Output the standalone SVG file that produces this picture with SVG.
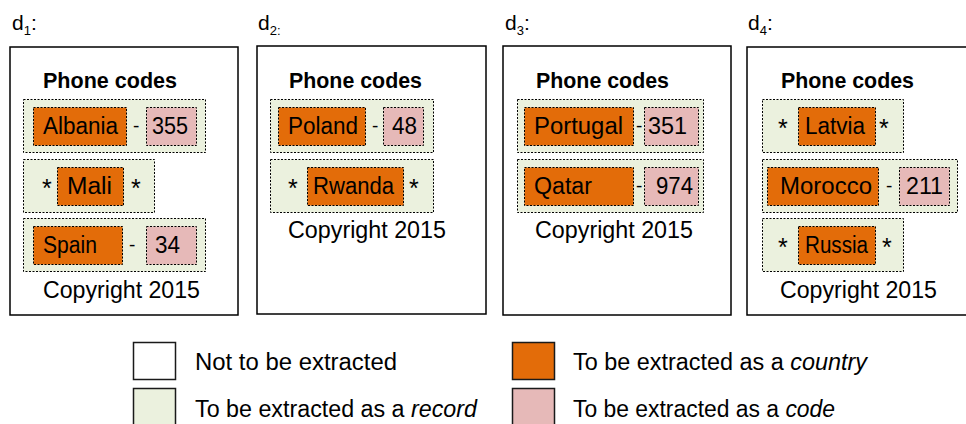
<svg xmlns="http://www.w3.org/2000/svg" width="966" height="424" viewBox="0 0 966 424">
  <style>
    .doc { fill: #ffffff; stroke: #000000; stroke-width: 1.5; }
    .rec { fill: #EBF1DE; stroke: #000000; stroke-width: 1; stroke-dasharray: 2 1.5; }
    .cty { fill: #E36C09; stroke: #000000; stroke-width: 1; stroke-dasharray: 2 1.5; }
    .code { fill: #E6B9B8; stroke: #000000; stroke-width: 1; stroke-dasharray: 2 1.5; }
    .key { stroke: #1a1a1a; stroke-width: 1.5; }
    text { font-family: "Liberation Sans", Arial, sans-serif; font-size: 23px; fill: #000000; }
    .h { font-weight: bold; font-size: 22px; }
    .lbl { font-size: 21px; }
    .sub { font-size: 13px; }
    .ast { font-size: 25px; }
    .dash { font-size: 19px; }
  </style>

  <!-- document d1 -->
  <g id="d1">
    <text class="lbl" x="12" y="30">d<tspan class="sub" dy="5">1</tspan><tspan dy="-5">:</tspan></text>
    <rect class="doc" x="10" y="47" width="228" height="268"/>
    <text class="h" x="43" y="88" textLength="134" lengthAdjust="spacingAndGlyphs">Phone codes</text>
    <g id="d1-albania">
      <rect class="rec" x="23.5" y="99.5" width="182" height="53"/>
      <rect class="cty" x="33.5" y="107.5" width="93" height="38"/>
      <text x="43" y="134" textLength="75" lengthAdjust="spacingAndGlyphs">Albania</text>
      <text class="dash" x="133" y="132">-</text>
      <rect class="code" x="146.5" y="107.5" width="50" height="38"/>
      <text x="152" y="134" textLength="36" lengthAdjust="spacingAndGlyphs">355</text>
    </g>
    <g id="d1-mali">
      <rect class="rec" x="23.5" y="159.5" width="131" height="53"/>
      <text class="ast" x="42" y="197">*</text>
      <rect class="cty" x="57.5" y="167.5" width="66" height="38"/>
      <text x="67" y="194" textLength="45" lengthAdjust="spacingAndGlyphs">Mali</text>
      <text class="ast" x="131" y="197">*</text>
    </g>
    <g id="d1-spain">
      <rect class="rec" x="23.5" y="218.5" width="182" height="53"/>
      <rect class="cty" x="33.5" y="226.5" width="89" height="38"/>
      <text x="43" y="253" textLength="54" lengthAdjust="spacingAndGlyphs">Spain</text>
      <text class="dash" x="129" y="251">-</text>
      <rect class="code" x="146.5" y="226.5" width="50" height="38"/>
      <text x="155" y="253" textLength="25" lengthAdjust="spacingAndGlyphs">34</text>
    </g>
    <text x="43" y="298" textLength="157" lengthAdjust="spacingAndGlyphs">Copyright 2015</text>
  </g>

  <!-- document d2 -->
  <g id="d2">
    <text class="lbl" x="258" y="30">d<tspan class="sub" dy="5">2:</tspan></text>
    <rect class="doc" x="257" y="46" width="229" height="268"/>
    <text class="h" x="289" y="88" textLength="133" lengthAdjust="spacingAndGlyphs">Phone codes</text>
    <g id="d2-poland">
      <rect class="rec" x="270.5" y="99.5" width="163" height="53"/>
      <rect class="cty" x="278.5" y="107.5" width="87" height="38"/>
      <text x="288" y="134" textLength="70" lengthAdjust="spacingAndGlyphs">Poland</text>
      <text class="dash" x="372" y="132">-</text>
      <rect class="code" x="383.5" y="107.5" width="40" height="38"/>
      <text x="392" y="134" textLength="25" lengthAdjust="spacingAndGlyphs">48</text>
    </g>
    <g id="d2-rwanda">
      <rect class="rec" x="270.5" y="159.5" width="163" height="53"/>
      <text class="ast" x="288" y="197">*</text>
      <rect class="cty" x="307.5" y="167.5" width="96" height="38"/>
      <text x="313" y="194" textLength="81" lengthAdjust="spacingAndGlyphs">Rwanda</text>
      <text class="ast" x="409" y="197">*</text>
    </g>
    <text x="288" y="238" textLength="158" lengthAdjust="spacingAndGlyphs">Copyright 2015</text>
  </g>

  <!-- document d3 -->
  <g id="d3">
    <text class="lbl" x="505" y="30">d<tspan class="sub" dy="5">3</tspan><tspan dy="-5">:</tspan></text>
    <rect class="doc" x="503" y="46" width="228" height="269"/>
    <text class="h" x="536" y="88" textLength="133" lengthAdjust="spacingAndGlyphs">Phone codes</text>
    <g id="d3-portugal">
      <rect class="rec" x="517.5" y="99.5" width="186" height="53"/>
      <rect class="cty" x="524.5" y="107.5" width="109" height="38"/>
      <text x="534" y="134" textLength="89" lengthAdjust="spacingAndGlyphs">Portugal</text>
      <text class="dash" x="636" y="132">-</text>
      <rect class="code" x="644.5" y="107.5" width="54" height="38"/>
      <text x="648" y="134" textLength="39" lengthAdjust="spacingAndGlyphs">351</text>
    </g>
    <g id="d3-qatar">
      <rect class="rec" x="517.5" y="159.5" width="186" height="53"/>
      <rect class="cty" x="524.5" y="167.5" width="109" height="38"/>
      <text x="534" y="194" textLength="58" lengthAdjust="spacingAndGlyphs">Qatar</text>
      <text class="dash" x="636" y="192">-</text>
      <rect class="code" x="644.5" y="167.5" width="54" height="38"/>
      <text x="656" y="194" textLength="37" lengthAdjust="spacingAndGlyphs">974</text>
    </g>
    <text x="535" y="238" textLength="158" lengthAdjust="spacingAndGlyphs">Copyright 2015</text>
  </g>

  <!-- document d4 -->
  <g id="d4">
    <text class="lbl" x="748" y="30">d<tspan class="sub" dy="5">4</tspan><tspan dy="-5">:</tspan></text>
    <rect class="doc" x="747" y="47" width="240" height="268"/>
    <text class="h" x="781" y="88" textLength="133" lengthAdjust="spacingAndGlyphs">Phone codes</text>
    <g id="d4-latvia">
      <rect class="rec" x="762.5" y="99.5" width="141" height="53"/>
      <text class="ast" x="778" y="137">*</text>
      <rect class="cty" x="798.5" y="107.5" width="77" height="38"/>
      <text x="805" y="134" textLength="60" lengthAdjust="spacingAndGlyphs">Latvia</text>
      <text class="ast" x="879" y="137">*</text>
    </g>
    <g id="d4-morocco">
      <rect class="rec" x="762.5" y="159.5" width="195" height="53"/>
      <rect class="cty" x="767.5" y="167.5" width="111" height="38"/>
      <text x="780" y="194" textLength="92" lengthAdjust="spacingAndGlyphs">Morocco</text>
      <text class="dash" x="886" y="192">-</text>
      <rect class="code" x="899.5" y="167.5" width="50" height="38"/>
      <text x="906" y="194" textLength="37" lengthAdjust="spacingAndGlyphs">211</text>
    </g>
    <g id="d4-russia">
      <rect class="rec" x="762.5" y="218.5" width="141" height="53"/>
      <text class="ast" x="778" y="256">*</text>
      <rect class="cty" x="798.5" y="226.5" width="77" height="38"/>
      <text x="805" y="253" textLength="63" lengthAdjust="spacingAndGlyphs">Russia</text>
      <text class="ast" x="882" y="256">*</text>
    </g>
    <text x="780" y="298" textLength="157" lengthAdjust="spacingAndGlyphs">Copyright 2015</text>
  </g>

  <!-- legend -->
  <g id="legend">
    <rect class="key" x="133.5" y="342.5" width="42" height="37" fill="#ffffff"/>
    <text x="195" y="370" textLength="202" lengthAdjust="spacingAndGlyphs">Not to be extracted</text>
    <rect class="key" x="133.5" y="388.5" width="42" height="40" fill="#EBF1DE"/>
    <text x="195" y="417" textLength="282" lengthAdjust="spacingAndGlyphs">To be extracted as a <tspan font-style="italic">record</tspan></text>
    <rect class="key" x="512.5" y="342.5" width="42" height="37" fill="#E36C09"/>
    <text x="573" y="370" textLength="294" lengthAdjust="spacingAndGlyphs">To be extracted as a <tspan font-style="italic">country</tspan></text>
    <rect class="key" x="512.5" y="388.5" width="42" height="40" fill="#E6B9B8"/>
    <text x="573" y="417" textLength="262" lengthAdjust="spacingAndGlyphs">To be extracted as a <tspan font-style="italic">code</tspan></text>
  </g>
</svg>
